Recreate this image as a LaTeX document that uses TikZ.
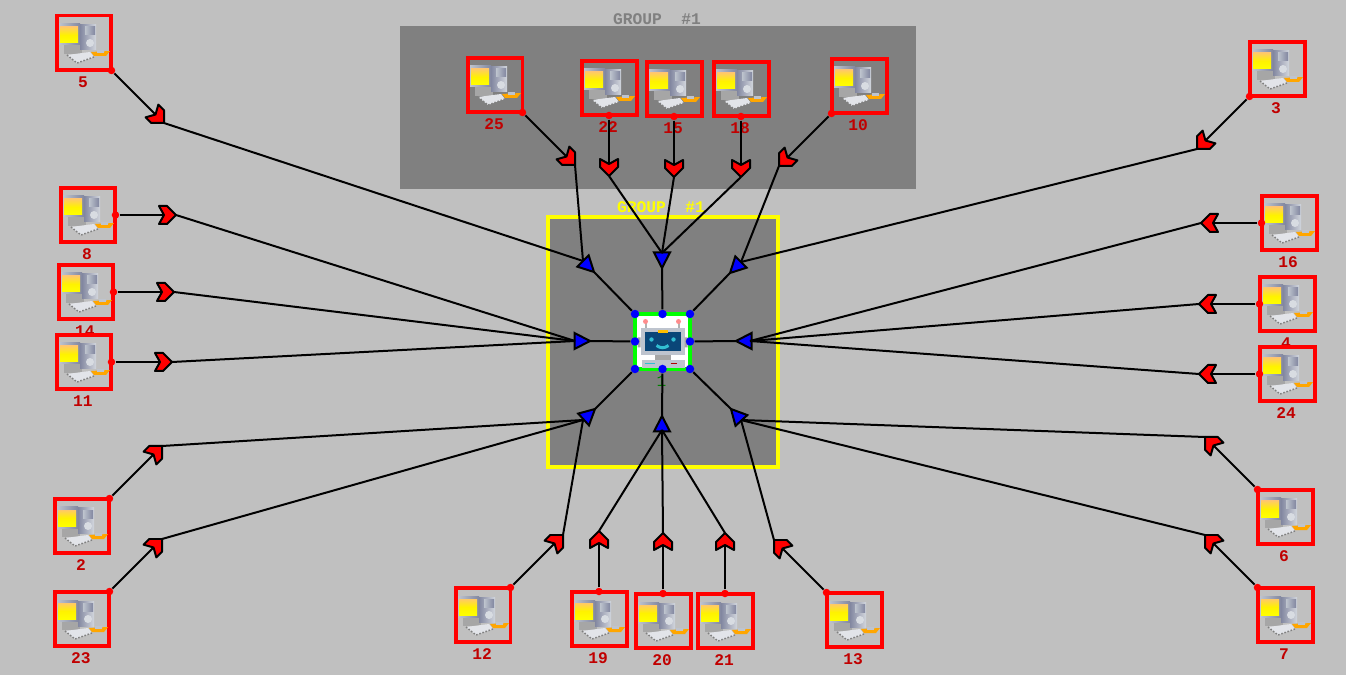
\documentclass[tikz,border=0pt]{standalone}
\usepackage{fontspec}
\setmonofont{Liberation Mono}
\usepackage{xcolor}
\definecolor{nwbg}{RGB}{192,192,192}
\definecolor{nwgray}{RGB}{128,128,128}
\definecolor{nwlabel}{RGB}{192,0,0}
\definecolor{nwgreen}{RGB}{0,255,0}
\definecolor{nwdark}{RGB}{0,128,0}
\definecolor{nwyellow}{RGB}{255,255,0}
\definecolor{nwscreen}{RGB}{10,70,120}
\definecolor{nwcyan}{RGB}{50,190,210}
\definecolor{nwmetal}{RGB}{190,196,206}
\definecolor{nwsteel}{RGB}{130,135,160}
\usetikzlibrary{arrows.meta}
\tikzset{
  stationbox/.style={draw=red, line width=0.08cm, minimum size=1.1cm, inner sep=0pt, outer sep=0pt},
  hubbox/.style={draw=nwgreen, fill=white, line width=0.07cm, minimum size=1.1cm, inner sep=0pt, outer sep=0pt},
  stationdot/.style={circle, fill=red, minimum size=0.15cm, inner sep=0pt},
  hubdot/.style={circle, fill=blue, minimum size=0.17cm, inner sep=0pt},
  numlabel/.style={font=\ttfamily\fontsize{9.25pt}{10pt}\selectfont\bfseries, nwlabel},
  grouplabel/.style={font=\ttfamily\fontsize{9.25pt}{10pt}\selectfont\bfseries},
  link/.style={draw=black, line width=0.04cm},
  allhead/.style={pos=1, sloped, allow upside down},
  redhead/.pic={
    \draw[fill=red, line width=0.04cm, line join=round] (0,0) -- (-9,-9) -- (-17,-9) -- (-12,0) -- (-17,9) -- (-9,9) -- cycle;
  },
  bluehead/.pic={
    \draw[fill=blue, line width=0.04cm] (0,0) -- (-15.5,-8) -- (-15.5,8) -- cycle;
  },
  pcicon/.pic={
    \fill[nwgray!70] (-20,2) rectangle (-2,11);
    \shade[left color=nwmetal, right color=nwsteel] (-25,-19) rectangle (-4,2);
    \shade[top color=yellow!30!orange!60, bottom color=yellow, middle color=yellow!90!orange] (-24,-16) rectangle (-6,0);
    \shade[left color=nwsteel, right color=nwmetal!70!white] (-4,-18) rectangle (12,7);
    \shade[left color=nwmetal, right color=nwsteel] (1,-16) rectangle (11,-8);
    \fill[nwmetal!60!white] (6,0) circle (4);
    \fill[nwmetal!45!white] (-17,12) -- (6,9) -- (10,14) -- (-7,20) -- cycle;
    \draw[gray, densely dotted, line width=0.03cm] (-17,12) -- (-7,20) -- (10,14);
    \fill[orange!70!yellow] (7,9) -- (26,8) -- (22,13) -- (10,13) -- cycle;
    \fill[nwmetal] (13,7) rectangle (20,10);
  },
  roboticon/.pic={
    \draw[gray!60, line width=0.04cm] (-17,-19) -- (-17,-12) (16,-19) -- (16,-12);
    \fill[red!45!white] (-17,-20) circle (2.5) (16,-20) circle (2.5);
    \fill[nwmetal] (-22,-13) rectangle (22,14);
    \fill[gray!70] (-25,-4) rectangle (-22,6) (22,-4) rectangle (25,6);
    \fill[nwscreen] (-18,-9) rectangle (18,10);
    \fill[orange!50!yellow] (-5,-11) rectangle (5,-8);
    \fill[nwcyan] (-11,-2) circle (2.2) (11,-2) circle (2.2);
    \draw[nwcyan, line width=0.06cm] (-6,4) .. controls (-2,7) and (2,7) .. (6,4);
    \fill[gray!70] (-8,14) rectangle (8,19);
    \fill[nwmetal] (-21,19) rectangle (22,27);
    \draw[nwcyan, line width=0.03cm] (-18,22) -- (-8,22);
    \draw[red!70!black, line width=0.03cm] (8,22) -- (14,22);
  }
}
\begin{document}
\begin{tikzpicture}[x=0.02cm, y=-0.02cm]
  \useasboundingbox (0,0) rectangle (1346,675);
  \fill[nwbg] (0,0) rectangle (1346,675);
  % groups
  \fill[nwgray] (400,26) rectangle (916,189);
  \node[grouplabel, nwgray] (grouptitle) at (657,19) {GROUP\ \ \#1};
  \draw[fill=nwgray, draw=nwyellow, line width=0.08cm] (548,217) rectangle (778,467);
  \node[grouplabel, nwyellow] (hubtitle) at (661,207) {GROUP\ \ \#1};
  % hub
  \node[font=\ttfamily\fontsize{9.25pt}{10pt}\selectfont, nwdark] (hubnum) at (661.5,381) {1};
  \node[hubbox] (hub) at (662.5,341.5) {};
  \pic at (hub) {roboticon};
  % blue arrows into the hub
  \foreach \dir/\anc/\bx/\by/\ax/\ay in {
    tl/north west/583/261/594/272, t/north/662/253/662/268, tr/north east/741/262/730/273,
    l/west/575/341/590/341, r/east/750/341/736/341,
    bl/south west/583/420/595/409, b/south/662/430/662/416, br/south east/741/420/731/409} {
    \coordinate (base\dir) at (\bx,\by);
    \coordinate (apex\dir) at (\ax,\ay);
    \node[hubdot] (dot\dir) at (hub.\anc) {};
    \draw[link] (apex\dir) -- (dot\dir);
    \path (base\dir) -- (apex\dir) pic[allhead] {bluehead};
  }
  % stations
  \foreach \num/\cx/\cy/\anc/\tx/\ty/\dir in {
    5/84/43/south east/164/123/tl, 25/495/85/south east/575/165/tl,
    22/609/88/south/609/176/t, 15/674/89/south/674/177/t, 18/741/89/south/741/177/t,
    10/859/86/south west/779/166/tr, 3/1277/69/south west/1197/149/tr,
    8/88/215/east/176/215/l, 14/86/292/east/174/292/l, 11/84/362/east/172/362/l,
    16/1289/223/west/1201/223/r, 4/1287/304/west/1199/304/r, 24/1287/374/west/1199/374/r,
    2/82/526/north east/162/446/bl, 23/82/619/north east/162/539/bl, 12/483/615/north east/563/535/bl,
    19/599/619/north/599/531/b, 20/663/621/north/663/533/b, 21/725/621/north/725/533/b,
    13/854/620/north west/774/540/br, 6/1285/517/north west/1205/437/br, 7/1285/615/north west/1205/535/br} {
    \node[numlabel] (num\num) at ({\cx-1},{\cy+39}) {\num};
    \node[stationbox] (st\num) at (\cx,\cy) {};
    \pic at (st\num) {pcicon};
    \node[stationdot] (pt\num) at (st\num.\anc) {};
    \coordinate (tip\num) at (\tx,\ty);
    \draw[link] (tip\num) -- (base\dir);
    \draw[link] (pt\num) -- (tip\num) pic[allhead] {redhead};
  }
\end{tikzpicture}
\end{document}
